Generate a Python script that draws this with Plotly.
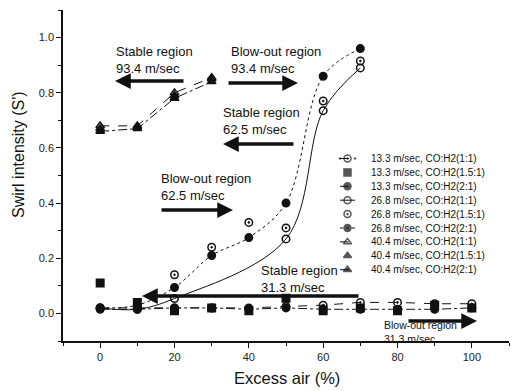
import plotly.graph_objects as go

# ---------------- data ----------------
excess_13 = [0, 10, 20, 30, 40, 50, 60, 70, 80, 90, 100]
swirl_13_11 = [0.02, 0.02, 0.02, 0.02, 0.02, 0.025, 0.03, 0.04, 0.04, 0.035, 0.035]
swirl_13_151 = [0.11, 0.04, 0.01, 0.02, 0.01, 0.055, 0.01, 0.02, 0.01, 0.03, 0.02]
swirl_13_21 = [0.015, 0.015, 0.02, 0.02, 0.015, 0.02, 0.015, 0.015, 0.015, 0.015, 0.02]

excess_26 = [0, 10, 20, 30, 40, 50, 60, 70]
swirl_26_11 = [0.02, 0.015, 0.054, None, None, 0.27, 0.735, 0.89]
swirl_26_151 = [0.02, 0.02, 0.14, 0.24, 0.33, 0.31, 0.77, 0.915]
swirl_26_21 = [0.02, 0.03, 0.094, 0.21, 0.275, 0.40, 0.86, 0.96]

excess_40 = [0, 10, 20, 30]
swirl_40_11 = [0.68, 0.68, 0.80, 0.855]
swirl_40_151 = [0.67, 0.675, 0.79, 0.85]
swirl_40_21 = [0.66, 0.67, 0.78, 0.84]

x_ticks = [0, 20, 40, 60, 80, 100]
y_ticks = [0.0, 0.2, 0.4, 0.6, 0.8, 1.0]

series_names = [
    "13.3 m/sec, CO:H2(1:1)", "13.3 m/sec, CO:H2(1.5:1)", "13.3 m/sec, CO:H2(2:1)",
    "26.8 m/sec, CO:H2(1:1)", "26.8 m/sec, CO:H2(1.5:1)", "26.8 m/sec, CO:H2(2:1)",
    "40.4 m/sec, CO:H2(1:1)", "40.4 m/sec, CO:H2(1.5:1)", "40.4 m/sec, CO:H2(2:1)",
]

# region labels: text, text-left px, text-center px, arrow tail px, arrow head px, arrow y px, font size
region_labels = [
    ("Stable region<br>93.4 m/sec", 114, 60, 185, 115, 81, 13),
    ("Blow-out region<br>93.4 m/sec", 229, 60, 227, 298, 83, 13),
    ("Stable region<br>62.5 m/sec", 221, 121, 295, 223, 144, 13),
    ("Blow-out region<br>62.5 m/sec", 159, 187, 160, 233, 210, 13),
    ("Stable region<br>31.3 m/sec", 259, 279, 360, 142, 296, 13),
    ("Blow-out region<br>31.3 m/sec", 382, 332, 407, 477, 321, 10.5),
]

FONT = "Liberation Sans, Arial, sans-serif"
BLACK = "#111111"

styles = [
    # x, y, mode, symbol, dash, shape
    (excess_13, swirl_13_11, "lines+markers", "circle-open-dot", "dash", "linear"),
    (excess_13, swirl_13_151, "markers", "square", None, "linear"),
    (excess_13, swirl_13_21, "lines+markers", "circle", "dashdot", "linear"),
    (excess_26, swirl_26_11, "lines+markers", "circle-open", "solid", "spline"),
    (excess_26, swirl_26_151, "markers", "circle-open-dot", None, "linear"),
    (excess_26, swirl_26_21, "lines+markers", "circle", "dot", "spline"),
    (excess_40, swirl_40_11, "lines+markers", "triangle-up-open", "dash", "linear"),
    (excess_40, swirl_40_151, "markers", "triangle-up", None, "linear"),
    (excess_40, swirl_40_21, "lines+markers", "triangle-up", "dashdot", "linear"),
]

fig = go.Figure()
for name, (xs, ys, mode, sym, dash, shape) in zip(series_names, styles):
    line = dict(color=BLACK, width=1)
    if dash:
        line["dash"] = dash
    line["shape"] = shape
    fig.add_trace(go.Scatter(
        x=xs, y=ys, mode=mode, name=name, connectgaps=True,
        marker=dict(symbol=sym, size=7.5, color=BLACK, line=dict(color=BLACK, width=1.5)),
        line=line, showlegend=False, cliponaxis=False,
    ))

# ---------------- manual legend (pixel overlay axes) ----------------
L, R, T, B = 63, 4, 10, 50
W, H = 513, 391
PW, PH = W - L - R, H - B - T
row0, rowstep = 158.5, 13.9
annotations = []
for i, (name, (xs, ys, mode, sym, dash, shape)) in enumerate(zip(series_names, styles)):
    ry = row0 + i * rowstep
    if mode == "lines+markers":
        lx = [340, 347.5, 355]
        sizes = [0, 7, 0]
    else:
        lx = [347.5]
        sizes = [7]
    line = dict(color=BLACK, width=1)
    if dash:
        line["dash"] = "dash" if dash in ("dash", "dashdot") else dash
    fig.add_trace(go.Scatter(
        x=lx, y=[ry] * len(lx), mode=mode, xaxis="x2", yaxis="y2", showlegend=False,
        marker=dict(symbol=sym, size=sizes, color=BLACK, line=dict(color=BLACK, width=1.5)),
        line=line, hoverinfo="skip",
    ))
    annotations.append(dict(
        x=369, y=ry, xref="x2", yref="y2", text=name, showarrow=False,
        xanchor="left", yanchor="middle", font=dict(family=FONT, size=10, color=BLACK),
    ))

for text, tx, ty, ax, hx, ay, fs in region_labels:
    annotations.append(dict(
        x=tx, y=ty, xref="x2", yref="y2", text=text, showarrow=False, align="left",
        xanchor="left", yanchor="middle", font=dict(family=FONT, size=fs, color=BLACK),
    ))
    annotations.append(dict(
        x=hx, y=ay, ax=ax, ay=ay, xref="x2", yref="y2", axref="x2", ayref="y2",
        text="", showarrow=True, arrowhead=2, arrowsize=0.9, arrowwidth=3.5, arrowcolor=BLACK,
    ))

# axis titles (paper coordinates)
annotations.append(dict(
    x=(287 - L) / PW, y=(H - B - 378) / PH, xref="paper", yref="paper", text="Excess air (%)",
    showarrow=False, xanchor="center", yanchor="middle", font=dict(family=FONT, size=16.5, color=BLACK),
))
annotations.append(dict(
    x=(18 - L) / PW, y=(H - B - 155) / PH, xref="paper", yref="paper", text="Swirl intensity (S')",
    showarrow=False, textangle=-90, xanchor="center", yanchor="middle",
    font=dict(family=FONT, size=16, color=BLACK),
))

axis_common = dict(
    showgrid=False, zeroline=False, showline=True, linecolor=BLACK, linewidth=1.5,
    ticks="outside", ticklen=5, tickwidth=1.3, tickcolor=BLACK,
    tickfont=dict(family=FONT, size=11, color="#222222"),
)

fig.update_layout(
    width=W, height=H, autosize=False,
    margin=dict(l=L, r=R, t=T, b=B, pad=0),
    paper_bgcolor="white", plot_bgcolor="white",
    showlegend=False,
    xaxis=dict(range=[-10, 110], tickvals=x_ticks, ticktext=[str(v) for v in x_ticks],
               minor=dict(dtick=10, tick0=0, ticks="outside", ticklen=3, tickcolor=BLACK, showgrid=False),
               **axis_common),
    yaxis=dict(range=[-0.1, 1.1], tickvals=y_ticks, ticktext=[f"{v:.1f}" for v in y_ticks],
               minor=dict(dtick=0.1, tick0=0, ticks="outside", ticklen=3, tickcolor=BLACK, showgrid=False),
               **axis_common),
    xaxis2=dict(range=[L, W - R], overlaying="x", visible=False, fixedrange=True, anchor="y2"),
    yaxis2=dict(range=[H - B, T], overlaying="y", visible=False, fixedrange=True, anchor="x2"),
    annotations=annotations,
)

fig.write_html("out.html")
